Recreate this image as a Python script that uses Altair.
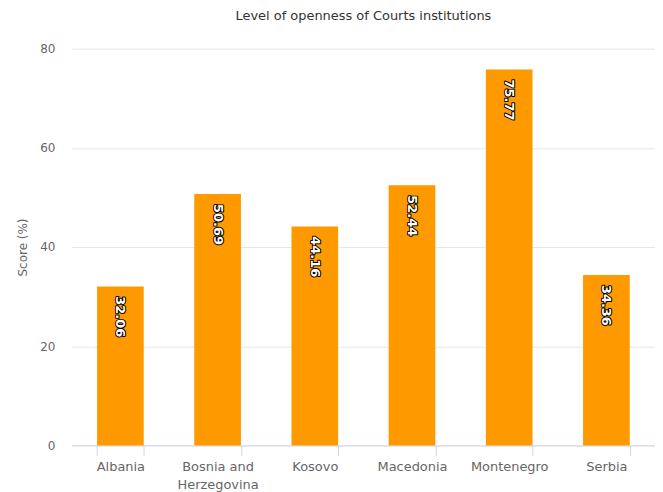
import altair as alt
import pandas as pd

countries = ["Albania", "Bosnia and Herzegovina", "Kosovo", "Macedonia", "Montenegro", "Serbia"]
scores = [32.06, 50.69, 44.16, 52.44, 75.77, 34.36]
labels = ["32.06", "50.69", "44.16", "52.44", "75.77", "34.36"]

df = pd.DataFrame({"country": countries, "score": scores, "label": labels})

FONT = "DejaVu Sans"

x = alt.X("country:N", sort=countries, title=None,
          scale=alt.Scale(paddingInner=0.52, paddingOuter=0.26),
          axis=alt.Axis(labelAngle=0, labelColor="#666666", labelFontSize=13, labelFont=FONT,
                        domainColor="#ccd6eb", tickColor="#ccd6eb", tickSize=10, tickBand="extent",
                        labelPadding=5, labelLineHeight=18, grid=False,
                        labelExpr="datum.label == 'Bosnia and Herzegovina' ? ['Bosnia and', 'Herzegovina'] : datum.label"))
y = alt.Y("score:Q", title="Score (%)",
          scale=alt.Scale(domain=[0, 80], nice=False),
          axis=alt.Axis(values=[0, 20, 40, 60, 80], ticks=False, tickSize=0, domain=False,
                        gridColor="#e6e6e6", labelColor="#666666", labelFontSize=12, labelFont=FONT,
                        labelPadding=17, titleColor="#666666", titleFontSize=12, titleFont=FONT,
                        titleFontWeight="normal", titlePadding=10))

base = alt.Chart(df)
bars = base.mark_bar(color="#ff9900").encode(x=x, y=y)
outline = base.mark_text(angle=90, align="left", baseline="middle", dx=10, fontSize=13,
                         fontWeight="bold", font=FONT, color="#000000", stroke="#000000",
                         strokeWidth=2, strokeJoin="round").encode(x=x, y=y, text="label:N")
txt = base.mark_text(angle=90, align="left", baseline="middle", dx=10, fontSize=13,
                     fontWeight="bold", font=FONT, color="#ffffff").encode(x=x, y=y, text="label:N")

chart = alt.layer(bars, outline, txt).properties(
    width=585, height=398,
    title=alt.TitleParams("Level of openness of Courts institutions", fontSize=13, fontWeight="normal",
                          color="#333333", font=FONT, offset=20),
    autosize=alt.AutoSizeParams(type="none"),
    padding={"left": 64, "top": 40, "right": 0, "bottom": 46},
).configure_view(stroke=None)

chart.save("out.html", embed_options={"renderer": "svg", "actions": False})
